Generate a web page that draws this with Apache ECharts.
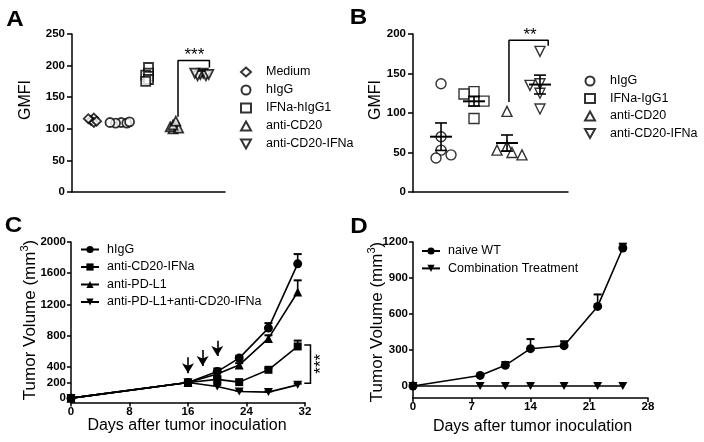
<!DOCTYPE html>
<html><head><meta charset="utf-8">
<script src="https://cdn.jsdelivr.net/npm/echarts@6/dist/echarts.min.js"></script>
<style>html,body{margin:0;padding:0;background:#fff}#c{width:704px;height:442px}</style>
</head><body><div id="c"></div>
<script>
// ---------- Panel A data ----------
const aNames = ['Medium','hIgG','IFNa-hIgG1','anti-CD20','anti-CD20-IFNa'];
const aMedium = [117,113,110,112,116];
const aHIgG = [110,109,109,110,111];
const aIFNaHIgG1 = [197,188,185,183,178,175];
const aAntiCD20 = [104,100,101,103,106,112];
const aAntiCD20IFNa = [188,186,184,184,186,188];
const aBracket = [[3.08,119],[3.08,208],[4.23,208],[4.23,197]];
const aStars = '***';
// ---------- Panel B data ----------
const bNames = ['hIgG','IFNa-IgG1','anti-CD20','anti-CD20-IFNa'];
const bHIgG = [137,70,53,43,47];
const bIFNaIgG1 = [127,124,115,115,93];
const bAntiCD20 = [102,58,53,50,47];
const bAntiCD20IFNa = [178,137,135,125,105];
const bBracket = [[2.06,114],[2.06,192],[3.25,192],[3.25,185]];
const bStars = '**';
// ---------- Panel C data ----------
const cNames = ['hIgG','anti-CD20-IFNa','anti-PD-L1','anti-PD-L1+anti-CD20-IFNa'];
const cDays = [0,16,20,23,27,31];
const cHIgG = [0,200,340,513,897,1720];
const cHIgGSem = [0,0,40,30,64,125];
const cCD20IFNa = [0,200,240,205,363,662];
const cCD20IFNaSem = [0,0,40,15,20,75];
const cPDL1 = [0,200,310,423,765,1359];
const cPDL1Sem = [0,0,30,25,40,150];
const cCombo = [0,200,150,85,77,170];
const cComboSem = [0,0,20,10,10,15];
const cYTicks = [0,200,400,800,1200,1600,2000];
const cArrowDays = [16,18,20];
const cArrowTops = [523,616,736];
const cArrowTips = [318,412,540];
const cBracket = [[31.9,680],[32.75,680],[32.75,190],[31.9,190]];
const cStars = '***';
// ---------- Panel D data ----------
const dNames = ['naive WT','Combination Treatment'];
const dDays = [0,8,11,14,18,22,25];
const dNaive = [0,88,172,311,336,663,1150];
const dNaiveSem = [0,5,28,80,37,100,36];
const dCombo = [0,0,0,0,0,0,0];
const dYTicks = [0,300,600,900,1200];

const FONT = 'Liberation Sans, Arial, sans-serif';
const DOWN = 'path://M0,0L10,0L5,9Z';
const BLK = '#000';

// simple beeswarm layout (pixel space) for dot plots
function swarm(values, center, pxX, pxY, minDist, step) {
  const placed = [], out = [];
  const cands = [0];
  for (let i = 1; i < 30; i++) cands.push(-i * step, i * step);
  values.forEach(v => {
    const y = v * pxY;
    let dx = 0;
    for (const c of cands) {
      if (placed.every(p => Math.hypot(p[0] - c, p[1] - y) >= minDist)) { dx = c; break; }
    }
    placed.push([dx, y]);
    out.push([center + dx / pxX, v]);
  });
  return out;
}
function mean(a){return a.reduce((s,v)=>s+v,0)/a.length;}
function sem(a){const m=mean(a);return Math.sqrt(a.reduce((s,v)=>s+(v-m)*(v-m),0)/(a.length-1))/Math.sqrt(a.length);}

const grids = [
  {left:72, top:34, width:153, height:158},
  {left:413, top:34, width:155, height:158},
  {left:71, top:242, width:234, height:160.5},
  {left:413, top:242, width:235, height:156}
];
const aX = {min:-0.8, max:4.8}, bX = {min:-0.85, max:3.85};
const aPxX = 153/(aX.max-aX.min), aPxY = 158/250;
const bPxX = 155/(bX.max-bX.min), bPxY = 158/200;

const axisLine = {show:true, onZero:false, lineStyle:{color:BLK, width:1.5}};
const axisTick = {show:true, length:4, lineStyle:{color:BLK, width:1.5}};
const lbl = {color:BLK, fontFamily:FONT, fontWeight:'bold', fontSize:11.5, formatter:v=>String(v)};

function hiddenX(i, r){return {gridIndex:i, type:'value', min:r.min, max:r.max, axisLine, axisTick:{show:false}, axisLabel:{show:false}, splitLine:{show:false}};}

const xAxis = [
  hiddenX(0, aX), hiddenX(1, bX),
  {gridIndex:2, type:'value', min:0, max:32, interval:8, axisLine, axisTick, axisLabel:{...lbl, margin:3}, splitLine:{show:false}},
  {gridIndex:3, type:'value', min:0, max:28, interval:7, axisLine, axisTick, axisLabel:{...lbl, margin:3}, splitLine:{show:false}}
];
const yAxis = [
  {gridIndex:0, type:'value', min:0, max:250, interval:50, axisLine, axisTick:{...axisTick,length:5}, axisLabel:{...lbl, margin:7}, splitLine:{show:false}},
  {gridIndex:1, type:'value', min:0, max:200, interval:50, axisLine, axisTick:{...axisTick,length:5}, axisLabel:{...lbl, margin:7}, splitLine:{show:false}},
  {gridIndex:2, type:'value', min:-56, max:2000, axisLine, axisTick:{...axisTick, customValues:cYTicks}, axisLabel:{...lbl, margin:5, customValues:cYTicks}, splitLine:{show:false}},
  {gridIndex:3, type:'value', min:-100, max:1200, axisLine, axisTick:{...axisTick, customValues:dYTicks}, axisLabel:{...lbl, margin:5, customValues:dYTicks}, splitLine:{show:false}}
];

const series = [];
// Panel A scatter
const aData = [aMedium, aHIgG, aIFNaHIgG1, aAntiCD20, aAntiCD20IFNa];
const aSym = ['diamond','circle','rect','triangle',DOWN];
aData.forEach((vals, i) => {
  series.push({type:'scatter', name:'A|'+aNames[i], xAxisIndex:0, yAxisIndex:0, symbol:aSym[i], symbolSize:9,
    itemStyle:{color:'#fff', borderColor:BLK, borderWidth:1.8}, data:swarm(vals, i, aPxX, aPxY, 3, 2.8), z:3});
});
series.push({type:'line', name:'A-bracket', xAxisIndex:0, yAxisIndex:0, data:aBracket, symbol:'none', silent:true,
  lineStyle:{color:BLK, width:1.5}, clip:false});
// Panel B scatter
const bData = [bHIgG, bIFNaIgG1, bAntiCD20, bAntiCD20IFNa];
const bSym = ['circle','rect','triangle',DOWN];
bData.forEach((vals, i) => {
  series.push({type:'scatter', name:'B|'+bNames[i], xAxisIndex:1, yAxisIndex:1, symbol:bSym[i], symbolSize:10,
    itemStyle:{color:'#fff', borderColor:BLK, borderWidth:1.4}, data:swarm(vals, i, bPxX, bPxY, 8, 5), z:3});
});
series.push({type:'custom', name:'B-mean', xAxisIndex:1, yAxisIndex:1, silent:true, z:4,
  data: bData.map((vals,i)=>[i, mean(vals), sem(vals)]),
  encode:{x:0,y:1},
  renderItem(params, api){
    const x=api.value(0), m=api.value(1), s=api.value(2);
    const c=api.coord([x,m]), t=api.coord([x,m+s]), b=api.coord([x,m-s]);
    const st={stroke:BLK, lineWidth:1.6};
    return {type:'group', children:[
      {type:'line', shape:{x1:c[0]-11,y1:c[1],x2:c[0]+11,y2:c[1]}, style:{stroke:BLK,lineWidth:2}},
      {type:'line', shape:{x1:c[0],y1:t[1],x2:c[0],y2:b[1]}, style:st},
      {type:'line', shape:{x1:c[0]-6,y1:t[1],x2:c[0]+6,y2:t[1]}, style:st},
      {type:'line', shape:{x1:c[0]-6,y1:b[1],x2:c[0]+6,y2:b[1]}, style:st}
    ]};
  }});
series.push({type:'line', name:'B-bracket', xAxisIndex:1, yAxisIndex:1, data:bBracket, symbol:'none', silent:true,
  lineStyle:{color:BLK, width:1.5}, clip:false});

// Panel C lines
function upperErr(params, api){
  const x=api.value(0), v=api.value(1), s=api.value(2);
  if(!s) return {type:'group', children:[]};
  const a=api.coord([x,v]), b=api.coord([x,v+s]);
  return {type:'group', children:[
    {type:'line', shape:{x1:a[0],y1:a[1],x2:b[0],y2:b[1]}, style:{stroke:BLK,lineWidth:1.6}},
    {type:'line', shape:{x1:b[0]-4,y1:b[1],x2:b[0]+4,y2:b[1]}, style:{stroke:BLK,lineWidth:2}}
  ]};
}
const cVals = [cHIgG, cCD20IFNa, cPDL1, cCombo];
const cSems = [cHIgGSem, cCD20IFNaSem, cPDL1Sem, cComboSem];
const cSym = ['circle','rect','triangle',DOWN];
const cSize = [9,8,9,[9,8]];
cVals.forEach((vals,i)=>{
  series.push({type:'line', name:'C|'+cNames[i], xAxisIndex:2, yAxisIndex:2, symbol:cSym[i], symbolSize:cSize[i],
    showAllSymbol:true, itemStyle:{color:BLK}, lineStyle:{color:BLK, width:1.6}, z:3,
    data:cDays.map((d,k)=>[d, vals[k]])});
});
series.push({type:'custom', name:'C-err', xAxisIndex:2, yAxisIndex:2, silent:true, z:2, encode:{x:0,y:1},
  data:[].concat(...cVals.map((vals,i)=>cDays.map((d,k)=>[d, vals[k], cSems[i][k]]))), renderItem:upperErr});
series.push({type:'line', name:'C-arrows', xAxisIndex:2, yAxisIndex:2, data:[], symbol:'none', silent:true,
  markLine:{silent:true, symbol:['none','arrow'], symbolSize:[9,10], animation:false, label:{show:false},
    lineStyle:{color:BLK, width:1.6, type:'solid'},
    data:cArrowDays.map((d,i)=>[{coord:[d,cArrowTops[i]]},{coord:[d,cArrowTips[i]]}])}});

// Panel D lines
series.push({type:'line', name:'D|'+dNames[0], xAxisIndex:3, yAxisIndex:3, symbol:'circle', symbolSize:9, showAllSymbol:true,
  itemStyle:{color:BLK}, lineStyle:{color:BLK, width:1.6}, z:3, data:dDays.map((d,k)=>[d,dNaive[k]])});
series.push({type:'line', name:'D|'+dNames[1], xAxisIndex:3, yAxisIndex:3, symbol:DOWN, symbolSize:[9,8], showAllSymbol:true,
  itemStyle:{color:BLK}, lineStyle:{color:BLK, width:1.6}, z:3, data:dDays.map((d,k)=>[d,dCombo[k]])});
series.push({type:'custom', name:'D-err', xAxisIndex:3, yAxisIndex:3, silent:true, z:2, encode:{x:0,y:1},
  data:dDays.map((d,k)=>[d,dNaive[k],dNaiveSem[k]]), renderItem:upperErr});

function legend(prefix, names, left, top, iw, gap, pad){
  return {orient:'vertical', left, top, padding:0, itemWidth:iw, itemHeight:9, itemGap:gap, selectedMode:false,
    data:names.map(n=>prefix+'|'+n),
    formatter:n=>'{t|'+n.split('|')[1]+'}',
    textStyle:{color:BLK, fontFamily:FONT, fontSize:12.5, lineHeight:14, rich:{t:{fontFamily:FONT, fontSize:12.5, color:BLK, padding:[0,0,0,pad]}}}};
}

const option = {
  animation:false,
  backgroundColor:'#fff',
  grid:grids, xAxis, yAxis, series,
  legend:[
    legend('A', aNames, 240, 65, 10, 4, 10),
    legend('B', bNames, 584, 74, 10, 3.5, 10),
    legend('C', cNames, 80, 242.5, 18, 3.5, 3),
    legend('D', dNames, 421, 244, 18, 3.4, 3)
  ]
};
const chart = echarts.init(document.getElementById('c'), null, {renderer:'canvas'});
chart.setOption(option);

// Texts: panel letters, axis titles, significance stars, C bracket
function px(g, pt){return chart.convertToPixel({gridIndex:g}, pt);}
const tt = (x,y,text,opts={}) => ({type:'text', x, y, rotation:opts.rot||0, scaleX:opts.sx||1, z:10,
  style:Object.assign({text, fontFamily:FONT, fontSize:opts.fs||16, fontWeight:opts.fw||'normal', fill:BLK, align:'center', verticalAlign:'middle'}, opts.style||{})});
const sA = px(0,[3.68,216]), sB = px(1,[2.70,198.5]), sC = px(2,[34.2,440]);
const volRich = {rich:{a:{fontFamily:FONT,fontSize:17,fill:BLK},s:{fontFamily:FONT,fontSize:11,fill:BLK,verticalAlign:'top',padding:[0,0,10,0]}}};
const graphic = [
  tt(15,19.5,'A',{fs:22,fw:'bold',sx:1.1}),
  tt(358.5,18,'B',{fs:22,fw:'bold',sx:1.1}),
  tt(13.5,225.5,'C',{fs:22,fw:'bold',sx:1.1}),
  tt(359,227,'D',{fs:22,fw:'bold',sx:1.1}),
  tt(26,100,'GMFI',{fs:16,rot:Math.PI/2}),
  tt(376,100,'GMFI',{fs:16,rot:Math.PI/2}),
  tt(30,320,'{a|Tumor Volume (mm}{s|3}{a|)}',{rot:Math.PI/2, style:volRich}),
  tt(377,322,'{a|Tumor Volume (mm}{s|3}{a|)}',{rot:Math.PI/2, style:volRich}),
  tt(187,426,'Days after tumor inoculation',{fs:16}),
  tt(532.5,426.5,'Days after tumor inoculation',{fs:16}),
  tt(sA[0],sA[1],aStars,{fs:17}),
  tt(sB[0],sB[1],bStars,{fs:17}),
  tt(sC[0],sC[1],cStars,{fs:17,rot:Math.PI/2}),
  {type:'polyline', z:10, silent:true, shape:{points:cBracket.map(p=>px(2,p))}, style:{stroke:BLK, lineWidth:1.5, fill:null}}
];
chart.setOption({graphic});
</script></body></html>
